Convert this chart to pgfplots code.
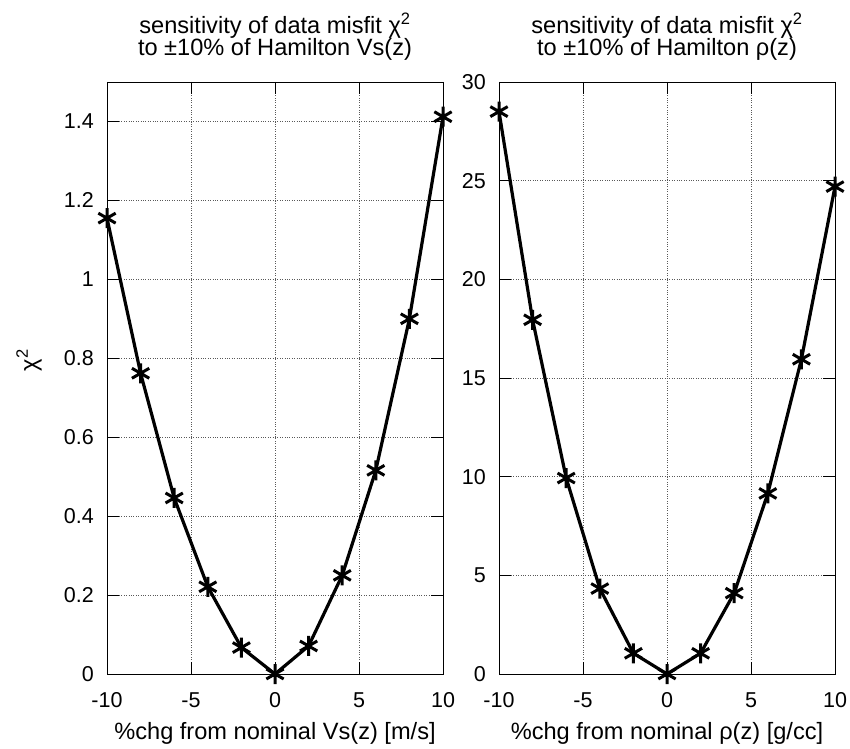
\documentclass[border=0pt]{standalone}
\usepackage{fontspec}
\setmainfont{Liberation Sans}
\usepackage{pgfplots}
\pgfplotsset{compat=1.18}

\newcommand{\tickfont}{\fontsize{21.5}{24}\selectfont}
\newcommand{\labelfont}{\fontsize{23.6}{22}\selectfont\lineskiplimit=-50pt\relax}

\pgfplotsset{
  misfit/.style={
    scale only axis,
    width=336pt, height=592pt,
    xmin=-10, xmax=10,
    xtick={-10,-5,0,5,10},
    ymin=0,
    grid=major,
    major grid style={dotted, black!65, line width=0.9pt},
    axis line style={black, line width=0.8pt},
    tick style={black, line width=0.8pt},
    major tick length=12pt,
    tick align=inside,
    /pgf/number format/assume math mode=true,
    /pgf/number format/fixed,
    tick label style={font=\tickfont},
    xticklabel style={anchor=north, inner sep=0pt, yshift=-18pt},
    yticklabel style={anchor=east, inner sep=0pt, xshift=-13pt},
    title style={at={(0.5,1)}, anchor=south, inner sep=0pt, yshift=15pt,
                 align=center, font=\labelfont},
    xlabel style={at={(axis description cs:0.5,0)}, anchor=north,
                  inner sep=0pt, yshift=-48pt, font=\labelfont},
  },
  misfitline/.style={black, line width=3.2pt,
    mark=asterisk, mark size=10pt, mark options={line width=3pt, solid}},
}

\begin{document}
\begin{tikzpicture}
\useasboundingbox (0,0) rectangle (850pt,748pt);

% chi^2 misfit versus shear-velocity perturbation
\begin{axis}[misfit,
  at={(107pt,74pt)}, anchor=south west,
  ymax=1.5,
  ytick={0,0.2,0.4,0.6,0.8,1,1.2,1.4},
  title={sensitivity of data misfit χ\textsuperscript{2}\\to ±10\% of Hamilton Vs(z)},
  xlabel={\%chg from nominal Vs(z) [m/s]},
  ylabel={χ\textsuperscript{2}},
  ylabel style={at={([xshift=-65pt,yshift=18pt]axis description cs:0,0.5)},
                anchor=south, inner sep=0pt, font=\labelfont},
]
\addplot[misfitline] coordinates {
  (-10,1.155) (-8,0.762) (-6,0.446) (-4,0.221) (-2,0.067) (0,0)
  (2,0.071) (4,0.250) (6,0.516) (8,0.900) (10,1.412)
};
\end{axis}

% chi^2 misfit versus density perturbation
\begin{axis}[misfit,
  at={(499pt,74pt)}, anchor=south west,
  ymax=30,
  ytick={0,5,10,15,20,25,30},
  title={sensitivity of data misfit χ\textsuperscript{2}\\to ±10\% of Hamilton ρ(z)},
  xlabel={\%chg from nominal ρ(z) [g/cc]},
]
\addplot[misfitline] coordinates {
  (-10,28.5) (-8,17.95) (-6,9.93) (-4,4.33) (-2,1.05) (0,0)
  (2,1.05) (4,4.10) (6,9.15) (8,15.95) (10,24.7)
};
\end{axis}
\end{tikzpicture}
\end{document}
